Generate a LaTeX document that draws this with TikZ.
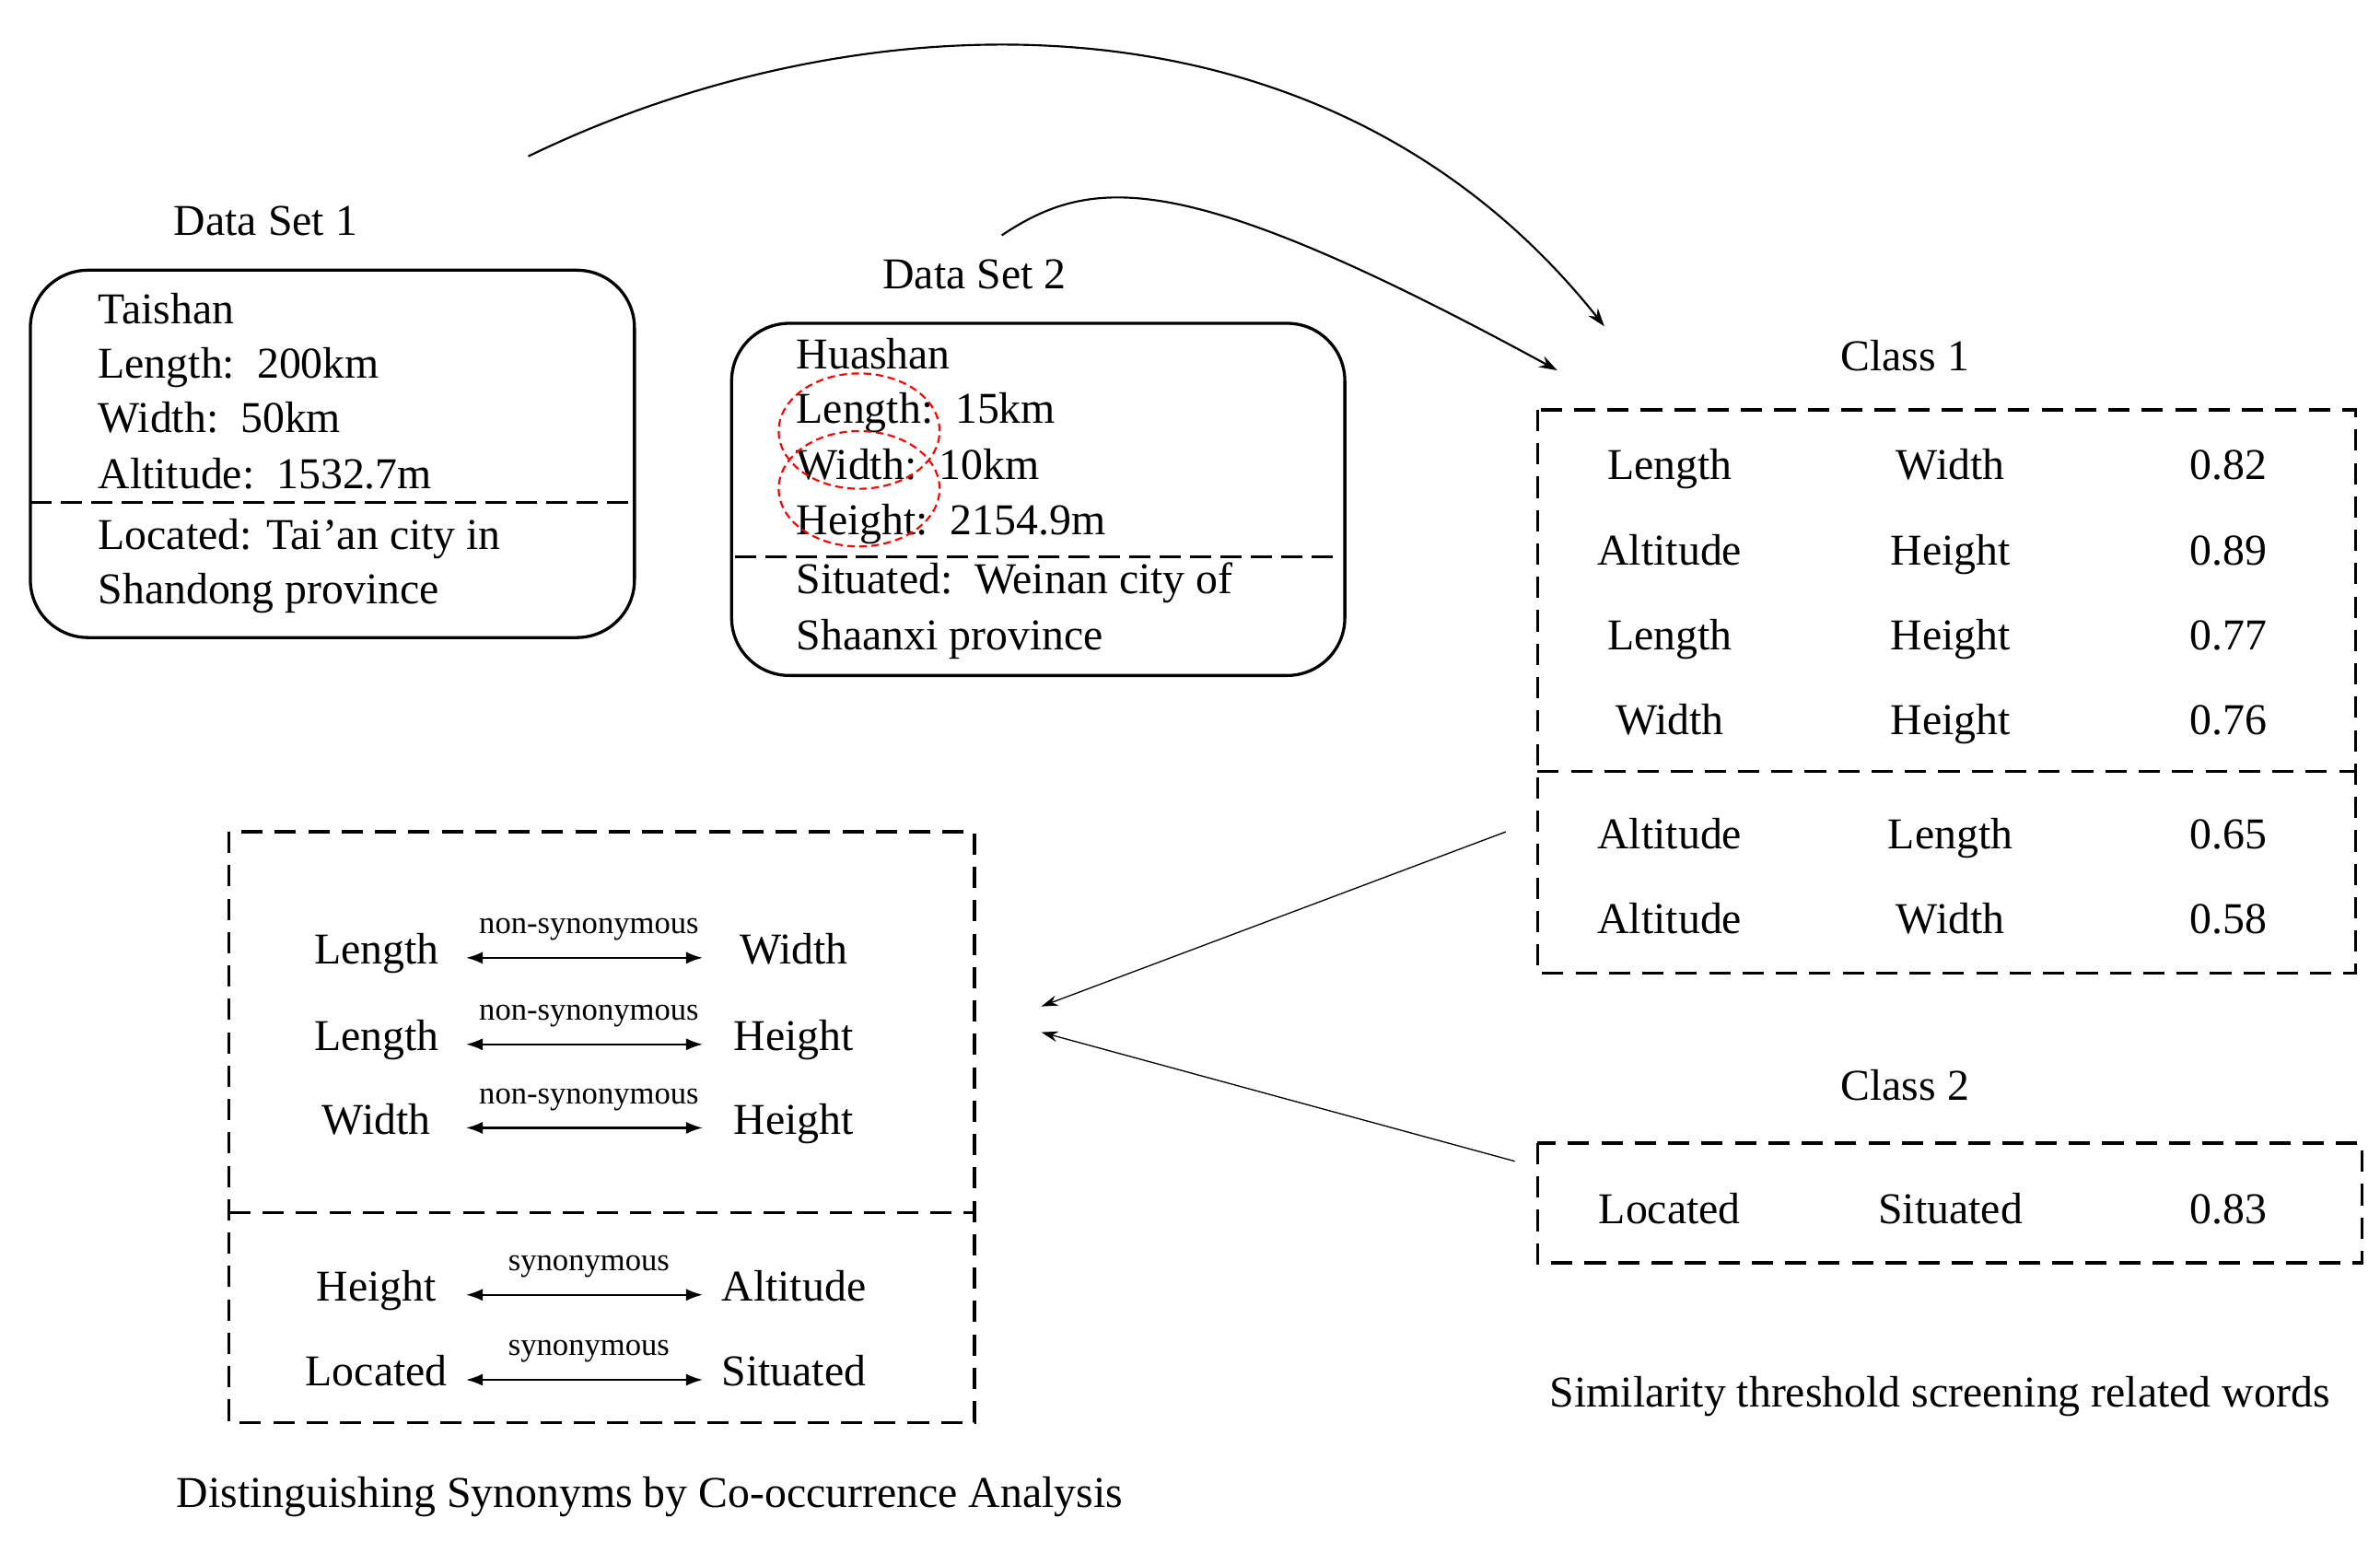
\documentclass[tikz,border=0pt]{standalone}
\usepackage{fontspec}
\setmainfont{Liberation Serif}
\usetikzlibrary{arrows.meta}
\tikzset{
  word/.style={inner sep=0pt,anchor=base},
  lword/.style={inner sep=0pt,anchor=base west},
  rel/.style={inner sep=1pt,anchor=base,font=\fontsize{21}{24}\selectfont},
  dbox/.style={draw,line width=2pt,dash pattern=on 14pt off 8pt},
  pair/.style={{Latex[length=11pt,width=8pt]}-{Latex[length=11pt,width=8pt]},line width=1.4pt},
}
\begin{document}
\begin{tikzpicture}[x=1pt,y=-1pt,line width=1.3pt,font=\fontsize{29}{34}\selectfont]
\useasboundingbox (0,0) rectangle (1568,1015);
% data set 1
\node[word] (d1) at (175,155) {Data Set 1};
\draw[rounded corners=38pt,line width=2pt] (20,178) rectangle (418,420);
\draw[line width=2pt,dash pattern=on 14pt off 6pt] (20,331) -- (418,331);
\node[lword] (t1) at (64,213) {Taishan};
\node[lword] (t2) at (64,249) {Length:\ \ 200km};
\node[lword] (t3) at (64,285) {Width:\ \ 50km};
\node[lword] (t4) at (64,322) {Altitude:\ \ 1532.7m};
\node[lword] (t5) at (64,362) {Located: Tai'an city in};
\node[lword] (t6) at (64,398) {Shandong province};
% data set 2
\node[word] (d2) at (642,190) {Data Set 2};
\draw[rounded corners=38pt,line width=2pt] (482,213) rectangle (886,445);
\draw[line width=2pt,dash pattern=on 14pt off 6pt] (484,367) -- (884,367);
\node[lword] (h1) at (524,243) {Huashan};
\node[lword] (h2) at (524,279) {Length:\ \ 15km};
\node[lword] (h3) at (524,316) {Width:\ \ 10km};
\node[lword] (h4) at (524,352) {Height:\ \ 2154.9m};
\node[lword] (h5) at (524,391) {Situated:\ \ Weinan city of};
\node[lword] (h6) at (524,428) {Shaanxi province};
\draw[red,line width=1.3pt,dash pattern=on 5pt off 3pt] (566,284) ellipse (53pt and 38pt);
\draw[red,line width=1.3pt,dash pattern=on 5pt off 3pt] (566,322) ellipse (53pt and 38pt);
% curved arrows
\coordinate (s1) at (348,103);
\coordinate (e1) at (1057,215);
\coordinate (s2) at (660,155);
\coordinate (e2) at (1026,244);
\draw[-{Stealth[length=12pt,width=8pt]}] (s1) .. controls (560,0) and (870,-20) .. (e1);
\draw[-{Stealth[length=12pt,width=8pt]}] (s2) .. controls (720,115) and (780,110) .. (e2);
% class 1
\node[word] (c1) at (1255,244) {Class 1};
\draw[dbox] (1013,270) rectangle (1552,641);
\draw[dbox] (1013,508) -- (1552,508);
\foreach \a/\b/\v/\y in {Length/Width/0.82/316,Altitude/Height/0.89/372,Length/Height/0.77/428,Width/Height/0.76/484,Altitude/Length/0.65/559,Altitude/Width/0.58/615}
  {\node[word] at (1100,\y) {\a}; \node[word] at (1285,\y) {\b}; \node[word] at (1468,\y) {\v};}
% class 2
\node[word] (c2) at (1255,725) {Class 2};
\draw[dbox] (1013,753) rectangle (1556,832);
\node[word] (l1) at (1100,806) {Located};
\node[word] (l2) at (1285,806) {Situated};
\node[word] (l3) at (1468,806) {0.83};
\node[word] (cap1) at (1278,927) {Similarity threshold screening related words};
% result box
\draw[dbox] (151,548) rectangle (642,937);
\draw[dbox] (151,799) -- (642,799);
\foreach \a/\b/\r/\y/\i in {Length/Width/non-synonymous/635/1,Length/Height/non-synonymous/692/2,Width/Height/non-synonymous/747/3,Height/Altitude/synonymous/857/4,Located/Situated/synonymous/913/5}
  {\node[word] (a\i) at (248,\y) {\a};
   \node[word] (b\i) at (523,\y) {\b};
   \coordinate (p\i) at (307,\y-4);
   \coordinate (q\i) at (463,\y-4);
   \draw[pair] (p\i) -- (q\i);
   \node[rel] at (388,\y-20) {\r};}
\coordinate (f1) at (992,548);
\coordinate (f2) at (998,765);
\coordinate (g1) at (686,663);
\coordinate (g2) at (686,680);
\draw[line width=0.8pt,-{Stealth[length=11pt,width=7pt]}] (f1) -- (g1);
\draw[line width=0.8pt,-{Stealth[length=11pt,width=7pt]}] (f2) -- (g2);
\node[word] (cap2) at (428,993) {Distinguishing Synonyms by Co-occurrence Analysis};
\end{tikzpicture}
\end{document}
